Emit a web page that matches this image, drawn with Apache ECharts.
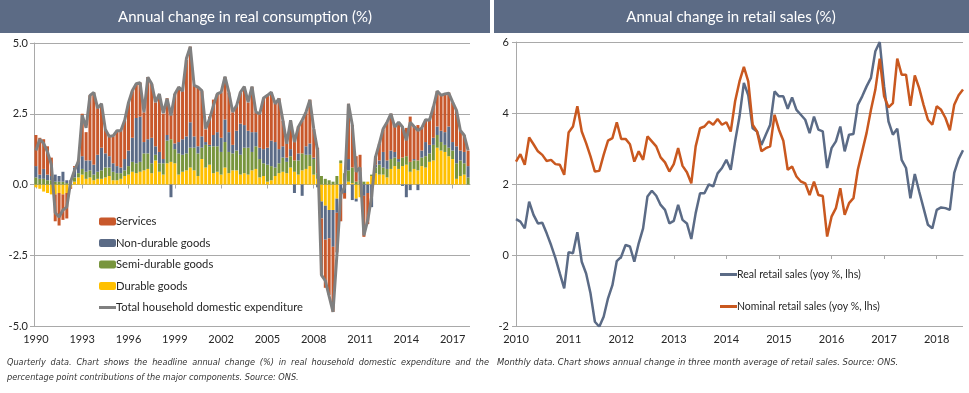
<!DOCTYPE html>
<html><head><meta charset="utf-8">
<script src="https://cdn.jsdelivr.net/npm/echarts@6/dist/echarts.min.js"></script>
<style>html,body{margin:0;padding:0;background:#fff}#c{width:969px;height:393px}</style>
</head><body><div id="c"></div>
<script>
// ---------------- Left chart data (quarterly, 1990Q1 - 2018Q1) ----------------
const consumptionYears = ['1990','1991','1992','1993','1994','1995','1996','1997','1998','1999','2000','2001','2002','2003','2004','2005','2006','2007','2008','2009','2010','2011','2012','2013','2014','2015','2016','2017','2018'];
const consumptionTickLabels = ['1990','1993','1996','1999','2002','2005','2008','2011','2014','2017'];
const yTicksLeft = [-5.0, -2.5, 0.0, 2.5, 5.0];

const durable = [
 -0.10,-0.15,-0.25,-0.30, -0.35,-0.35,-0.30,-0.35, -0.30,-0.10,0.10,0.25, 0.35,0.20,0.25,0.15,
 0.20,0.20,0.25,0.30, 0.15,0.15,0.20,0.30, 0.35,0.45,0.40,0.45, 0.50,0.55,0.40,0.85,
 0.45,0.35,0.75,0.80, 0.75,0.35,0.45,0.50, 0.60,0.50,0.30,0.90, 0.60,0.70,0.40,0.45,
 0.35,0.60,0.40,0.50, 0.50,0.35,0.40,0.35, 0.50,0.55,0.25,0.30, 0.10,0.15,0.30,0.40,
 0.45,0.40,0.60,0.45, 0.35,0.50,0.55,0.65, 0.35,0.20,-0.60,-0.75, -0.90,-0.90,-0.50,0.75,
 0.10,0.10,0.05,-0.50, -0.45,0.00,0.10,0.30, 0.40,0.35,0.35,0.25, 0.55,0.65,0.55,0.65,
 0.70,0.45,0.55,0.50, 0.65,0.60,0.80,0.85, 1.30,1.20,1.15,1.00, 0.90,0.20,0.30,0.35, 0.00];
const semiDurable = [
 0.25,0.20,0.20,0.15, 0.15,0.10,0.10,0.10, 0.05,0.05,0.15,0.15, 0.20,0.25,0.25,0.20,
 0.25,0.30,0.35,0.30, 0.30,0.25,0.20,0.20, 0.30,0.35,0.35,0.35, 0.60,0.55,0.35,0.20,
 0.30,0.40,0.80,0.80, 0.50,0.75,0.60,0.60, 0.70,0.80,0.80,0.40, 0.80,0.65,0.95,0.90,
 0.80,0.90,0.75,0.60, 0.70,0.70,0.90,0.95, 0.65,0.80,0.65,0.45, 0.60,0.50,0.30,0.35,
 0.50,0.40,0.40,0.40, 0.50,0.60,0.50,0.40, 0.55,0.20,0.30,0.20, 0.15,0.10,0.30,0.10,
 0.30,0.40,0.55,0.10, 0.15,0.10,0.00,0.05, 0.20,0.35,0.25,0.30, 0.35,0.30,0.25,0.30,
 0.30,0.35,0.30,0.35, 0.30,0.40,0.30,0.55, 0.45,0.30,0.25,0.30, 0.30,0.55,0.55,0.40, 0.25];
const nonDurable = [
 0.40,0.15,0.35,0.20, 0.15,0.25,0.20,0.35, 0.10,0.10,0.35,0.40, 0.45,0.40,0.35,0.35,
 0.60,0.80,0.50,0.40, 0.30,0.25,0.20,0.40, 0.55,0.85,1.60,1.60, 0.40,0.50,0.90,0.30,
 0.40,0.15,0.20,-0.45, 0.20,0.40,0.55,0.60, 0.90,0.40,0.25,0.40, 0.10,0.05,0.40,0.50,
 0.50,0.80,0.70,0.30, 0.70,1.10,0.80,0.60, 0.70,0.50,0.40,0.50, 0.60,0.90,0.90,0.50,
 0.40,0.15,0.25,-0.30, 0.25,-0.40,0.30,0.40, 0.05,-0.10,-0.60,-1.20, -1.00,-1.30,-0.50,-0.50,
 -0.30,0.40,-0.55,-0.10, 0.30,-0.40,-0.30,-0.80, 0.10,0.15,0.55,0.30, 0.30,0.20,0.10,-0.05,
 -0.45,-0.20,0.05,-0.20, 0.25,0.50,0.30,0.25, 0.30,0.40,0.45,0.75, 0.30,0.60,0.35,0.40, 0.40];
const services = [
 1.10,1.30,1.05,1.00, 0.65,-0.95,-1.15,-0.90, -0.90,-0.05,0.05,0.05, 1.50,1.00,2.30,2.55,
 1.65,1.55,0.85,0.70, 0.95,1.25,1.30,1.35, 1.70,1.65,1.20,1.20, 1.05,2.20,1.90,1.55,
 2.05,1.60,1.30,0.85, 1.75,1.95,1.70,2.70, 2.67,1.80,2.10,1.60, 0.45,1.00,1.25,1.35,
 1.60,1.50,1.40,1.15, 0.90,1.10,1.35,1.00, 1.60,0.70,1.20,1.80, 1.85,1.70,1.35,1.80,
 0.90,0.50,1.00,0.65, 0.95,1.15,1.20,1.55, 1.00,0.90,-2.00,-1.70, -2.00,-2.30,-1.40,-0.80,
 -0.20,1.95,1.50,0.90, 0.60,-1.45,-1.10,0.00, 0.30,0.60,0.80,1.35, 1.30,0.90,1.30,1.10,
 1.00,1.60,1.15,1.25, 0.80,0.80,0.90,1.10, 1.25,1.25,1.35,1.20, 1.40,1.25,0.70,0.60, 0.55];
const totalExpenditure = [
 1.20,1.60,1.45,1.15, 0.70,-1.00,-1.15,-0.90, -0.80,0.10,0.50,0.82, 2.45,2.00,3.15,3.25,
 2.70,2.85,1.94,1.70, 1.72,1.90,1.90,2.27, 2.90,3.32,3.56,3.60, 2.55,3.79,3.56,2.91,
 3.20,2.52,3.03,2.44, 3.20,3.44,3.30,4.45, 4.87,3.50,3.44,3.32, 1.97,2.32,2.79,3.20,
 3.26,3.81,3.26,2.56, 2.79,3.26,3.46,2.91, 3.46,2.56,2.50,3.06, 3.15,3.26,2.85,3.03,
 2.27,1.44,2.27,1.50, 2.03,2.27,2.56,2.99, 1.97,1.20,-3.20,-3.40, -3.95,-4.50,-2.50,-0.35,
 -0.10,2.85,2.10,0.45, 0.60,-1.80,-1.26,-0.43, 0.97,1.44,1.97,2.20, 2.50,2.03,2.20,2.03,
 1.56,2.20,2.05,1.91, 2.00,2.29,2.27,2.73, 3.30,3.15,3.20,3.23, 2.91,2.62,1.91,1.74, 1.21];

// ---------------- Right chart data (monthly, Jan 2010 - Jul 2018) ----------------
const retailYears = ['2010','2011','2012','2013','2014','2015','2016','2017','2018'];
const retailMonthsInLastYear = 7;
const yTicksRight = [-2, 0, 2, 4, 6];
const realRetail = [
 1.01,0.94,0.75,1.50,1.13,0.89,0.91,0.61,0.28,-0.09,-0.52,-0.94,
 0.08,0.05,0.64,-0.19,-0.52,-1.08,-1.88,-2.02,-1.74,-1.22,-0.85,-0.17,
 -0.05,0.28,0.24,-0.19,0.33,0.75,1.65,1.81,1.67,1.41,1.27,0.89,
 0.96,1.41,0.99,0.89,0.45,1.18,1.74,1.74,1.99,1.93,2.30,2.45,
 2.68,2.40,3.20,3.90,4.85,4.50,3.57,3.48,3.10,3.39,3.67,4.61,
 4.47,4.47,4.12,4.44,4.09,3.95,3.81,3.43,3.90,3.53,3.48,2.45,
 3.01,3.20,3.62,2.92,3.39,3.41,4.23,4.47,4.75,4.99,5.74,6.00,
 4.75,3.76,3.39,3.56,2.68,2.45,1.60,2.28,1.79,1.32,0.85,0.75,
 1.27,1.34,1.32,1.27,2.31,2.70,2.95];
const nominalRetail = [
 2.63,2.84,2.54,3.31,3.12,2.92,2.82,2.65,2.68,2.56,2.54,2.26,
 3.45,3.62,4.19,3.48,3.15,2.78,2.35,2.37,2.82,3.22,3.29,3.74,
 3.27,3.27,3.12,2.63,2.92,2.68,3.34,3.20,3.06,2.75,2.61,2.35,
 2.56,3.01,2.51,2.33,2.02,3.06,3.57,3.62,3.76,3.67,3.83,3.67,
 3.74,3.48,4.33,4.89,5.30,4.89,3.67,3.48,2.92,3.01,3.06,3.95,
 3.53,3.22,2.40,2.49,2.21,2.07,2.02,1.69,2.07,1.69,1.66,0.52,
 1.08,1.32,1.88,1.13,1.46,1.60,2.40,2.92,3.44,4.09,4.66,5.53,
 4.47,4.16,4.28,5.53,5.08,5.08,4.20,5.06,4.70,4.23,3.81,3.67,
 4.19,4.09,3.86,3.51,4.23,4.50,4.66];

// ---------------- build categories ----------------
const quarters = [];
consumptionYears.forEach((y, k) => {
  const n = (k === consumptionYears.length - 1) ? 1 : 4;
  for (let q = 1; q <= n; q++) quarters.push(y + ' Q' + q);
});
const months = [];
retailYears.forEach((y, k) => {
  const n = (k === retailYears.length - 1) ? retailMonthsInLastYear : 12;
  for (let m = 1; m <= n; m++) months.push(y + '-' + (m < 10 ? '0' + m : m));
});

const C = {
  title: '#5c6b85', services: '#c8582b', nonDurable: '#5b6b86', semi: '#78953d', durable: '#ffc000',
  total: '#808080', real: '#5b6b86', nominal: '#c9581f', grid: '#a9a9a9', text: '#262626'
};
const FONT = 'Lato, "Open Sans", sans-serif';
const NOTE_FONT = '"Liberation Sans Narrow", "DejaVu Sans Condensed", sans-serif';
const NOTE_CSS = 'italic 9.1px ' + NOTE_FONT;

// footnotes
const noteLeft1 = 'Quarterly data. Chart shows the headline annual change (%) in real household domestic expenditure and the';
const noteLeft2 = 'percentage point contributions of the major components. Source: ONS.';
const noteRight = 'Monthly data. Chart shows annual change in three month average of retail sales. Source: ONS.';

// justified text line (word placement like the source document)
function justifiedLine(text, x0, x1, y, font, fill) {
  const ctx = document.createElement('canvas').getContext('2d');
  ctx.font = font;
  const words = text.split(' ');
  const widths = words.map(w => ctx.measureText(w).width);
  const sum = widths.reduce((a, b) => a + b, 0);
  const gap = (x1 - x0 - sum) / (words.length - 1);
  const out = [];
  let x = x0;
  words.forEach((w, i) => {
    out.push({type: 'text', x: x, y: y, style: {text: w, fill: fill, font: font, textVerticalAlign: 'middle'}});
    x += widths[i] + gap;
  });
  return out;
}

const leftLabelShow = (i) => consumptionTickLabels.indexOf(quarters[i].slice(0,4)) >= 0 && quarters[i].endsWith('Q1');
const rightLabelShow = (i) => months[i].endsWith('-01');
const LINE_ICON = 'path://M0,0H170V30H0Z';

const chart = echarts.init(document.getElementById('c'), null, {renderer: 'canvas'});

const option = {
  animation: false,
  backgroundColor: '#ffffff',
  textStyle: {fontFamily: FONT},
  graphic: [
    {type: 'rect', shape: {x: 0, y: 0, width: 490, height: 33}, style: {fill: C.title}},
    {type: 'rect', shape: {x: 494, y: 0, width: 475, height: 33}, style: {fill: C.title}},
    {type: 'text', x: 245, y: 17, style: {text: 'Annual change in real consumption (%)', fill: '#fff', font: '15px ' + FONT, textAlign: 'center', textVerticalAlign: 'middle'}},
    {type: 'text', x: 731, y: 17, style: {text: 'Annual change in retail sales (%)', fill: '#fff', font: '15px ' + FONT, textAlign: 'center', textVerticalAlign: 'middle'}}
  ].concat(
    justifiedLine(noteLeft1, 7, 489, 363, NOTE_CSS, '#333'),
    [
      {type: 'text', x: 7, y: 378, style: {text: noteLeft2, fill: '#333', font: NOTE_CSS, textVerticalAlign: 'middle'}},
      {type: 'text', x: 497, y: 363, style: {text: noteRight, fill: '#333', font: 'italic 9.4px ' + NOTE_FONT, textVerticalAlign: 'middle'}}
    ]
  ),
  grid: [
    {left: 34, top: 43, width: 436, height: 283, containLabel: false},
    {left: 516, top: 42, width: 447, height: 284, containLabel: false}
  ],
  legend: [
    {
      orient: 'vertical', left: 94, top: 211, itemWidth: 17, itemHeight: 8, itemGap: 10.5,
      data: ['Services', 'Non-durable goods', 'Semi-durable goods', 'Durable goods',
             {name: 'Total household domestic expenditure', icon: LINE_ICON}],
      textStyle: {fontSize: 11.2, color: C.text, fontFamily: FONT, padding: [0,0,0,-5]},
      selectedMode: false
    },
    {
      orient: 'vertical', left: 715, top: 264, itemWidth: 17, itemHeight: 8, itemGap: 21,
      data: [{name: 'Real retail sales (yoy %, lhs)', icon: LINE_ICON}, {name: 'Nominal retail sales (yoy %, lhs)', icon: LINE_ICON}],
      textStyle: {fontSize: 10.5, color: C.text, fontFamily: FONT, padding: [0,0,0,-5]},
      selectedMode: false
    }
  ],
  xAxis: [
    {
      type: 'category', gridIndex: 0, data: quarters, boundaryGap: true, position: 'bottom',
      axisLine: {show: false, onZero: false}, axisTick: {show: false},
      axisLabel: {interval: (i) => leftLabelShow(i), formatter: (v) => v.slice(0,4), color: C.text, fontSize: 11, margin: 8, fontFamily: FONT}
    },
    {
      type: 'category', gridIndex: 0, data: quarters, boundaryGap: true, position: 'bottom',
      axisLine: {show: true, onZero: true, lineStyle: {color: C.grid, width: 1}},
      axisTick: {show: true, interval: (i) => leftLabelShow(i), alignWithLabel: true, length: 4, lineStyle: {color: C.grid}},
      axisLabel: {show: false}
    },
    {
      type: 'category', gridIndex: 1, data: months, boundaryGap: false, position: 'bottom',
      axisLine: {show: false, onZero: false}, axisTick: {show: false},
      axisLabel: {interval: (i) => rightLabelShow(i), formatter: (v) => v.slice(0,4), color: C.text, fontSize: 11, margin: 8, fontFamily: FONT}
    },
    {
      type: 'category', gridIndex: 1, data: months, boundaryGap: false, position: 'bottom',
      axisLine: {show: true, onZero: true, lineStyle: {color: C.grid, width: 1}},
      axisTick: {show: true, interval: (i) => rightLabelShow(i), length: 4, lineStyle: {color: C.grid}},
      axisLabel: {show: false}
    }
  ],
  yAxis: [
    {
      type: 'value', gridIndex: 0, min: yTicksLeft[0], max: yTicksLeft[yTicksLeft.length-1], interval: 2.5,
      axisLine: {show: true, lineStyle: {color: C.grid}}, axisTick: {show: true, length: 4, lineStyle: {color: C.grid}},
      splitLine: {show: true, lineStyle: {color: C.grid, width: 1}},
      axisLabel: {formatter: (v) => v.toFixed(1), color: C.text, fontSize: 11, margin: 6, fontFamily: FONT}
    },
    {
      type: 'value', gridIndex: 1, min: yTicksRight[0], max: yTicksRight[yTicksRight.length-1], interval: 2,
      axisLine: {show: true, lineStyle: {color: C.grid}}, axisTick: {show: true, length: 4, lineStyle: {color: C.grid}},
      splitLine: {show: true, lineStyle: {color: C.grid, width: 1}},
      axisLabel: {color: C.text, fontSize: 11, margin: 7, fontFamily: FONT}
    }
  ],
  series: [
    {name: 'Durable goods', type: 'bar', xAxisIndex: 0, yAxisIndex: 0, stack: 'c', data: durable, itemStyle: {color: C.durable}, barCategoryGap: '22%'},
    {name: 'Semi-durable goods', type: 'bar', xAxisIndex: 0, yAxisIndex: 0, stack: 'c', data: semiDurable, itemStyle: {color: C.semi}},
    {name: 'Non-durable goods', type: 'bar', xAxisIndex: 0, yAxisIndex: 0, stack: 'c', data: nonDurable, itemStyle: {color: C.nonDurable}},
    {name: 'Services', type: 'bar', xAxisIndex: 0, yAxisIndex: 0, stack: 'c', data: services, itemStyle: {color: C.services}},
    {name: 'Total household domestic expenditure', type: 'line', xAxisIndex: 0, yAxisIndex: 0, data: totalExpenditure,
     symbol: 'none', lineStyle: {color: C.total, width: 3}, itemStyle: {color: C.total}, z: 5},
    {name: 'Real retail sales (yoy %, lhs)', type: 'line', xAxisIndex: 2, yAxisIndex: 1, data: realRetail,
     symbol: 'none', lineStyle: {color: C.real, width: 2.5}, itemStyle: {color: C.real}},
    {name: 'Nominal retail sales (yoy %, lhs)', type: 'line', xAxisIndex: 2, yAxisIndex: 1, data: nominalRetail,
     symbol: 'none', lineStyle: {color: C.nominal, width: 2.5}, itemStyle: {color: C.nominal}}
  ]
};
chart.setOption(option);
</script>
</body></html>
